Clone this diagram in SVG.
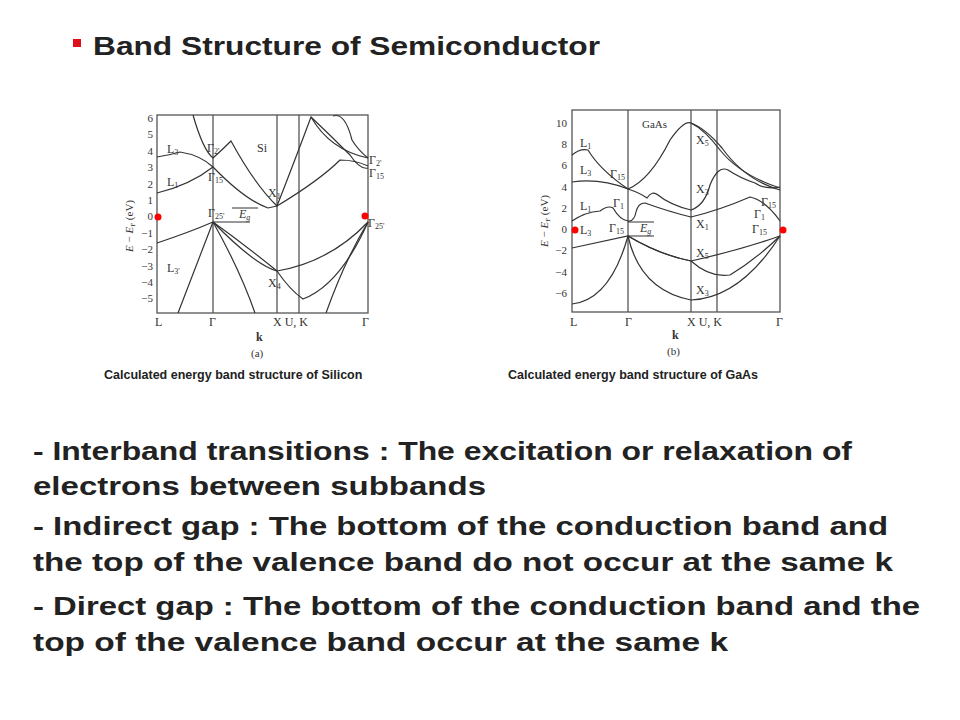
<svg xmlns="http://www.w3.org/2000/svg" width="960" height="720" viewBox="0 0 960 720">
<style>
.t{font-family:"Liberation Sans",Arial,sans-serif;font-weight:bold;fill:#222}
.c{font-family:"Liberation Sans",Arial,sans-serif;font-weight:bold;font-size:12.5px;fill:#222}
.f{font-family:"Liberation Serif","Times New Roman",serif;fill:#333}
.ax{fill:none;stroke:#555;stroke-width:1.3}
.b{fill:none;stroke:#333;stroke-width:1.2}
.dot{fill:#f00}
</style>
<rect width="960" height="720" fill="#fff"/>
<rect x="73" y="39" width="8" height="8" fill="#e0101a"/>
<text class="t" x="93" y="55" font-size="25" textLength="507" lengthAdjust="spacingAndGlyphs">Band Structure of Semiconductor</text>

<g id="si">
<rect class="ax" x="157" y="115" width="211" height="198"/>
<g class="ax"><line x1="213" y1="115" x2="213" y2="313"/><line x1="277" y1="115" x2="277" y2="313"/><line x1="299" y1="115" x2="299" y2="313"/></g>
<g class="f" font-size="11" text-anchor="end">
<text x="153" y="122">6</text><text x="153" y="138">5</text><text x="153" y="155">4</text><text x="153" y="171">3</text><text x="153" y="188">2</text><text x="153" y="204">1</text><text x="153" y="220">0</text><text x="153" y="237">−1</text><text x="153" y="253">−2</text><text x="153" y="270">−3</text><text x="153" y="286">−4</text><text x="153" y="302">−5</text>
</g>
<text class="f" font-size="11" transform="translate(133,252) rotate(-90)"><tspan font-style="italic">E</tspan> − <tspan font-style="italic">E</tspan><tspan font-size="7" dy="2">F</tspan><tspan dy="-2"> (eV)</tspan></text>
<g class="b">
<path d="M157,243 Q190,232 213,222 Q245,245 277,271 Q330,262 368,222"/>
<path d="M213,222 Q255,265 277,271 Q290,290 303,299 Q340,285 368,222"/>
<path d="M213,222 L178,313 M213,222 Q240,270 255,313 M326,313 Q345,260 368,222"/>
<path d="M157,193 Q190,185 213,167 Q245,200 268,208 L277,206 Q320,180 340,160 Q355,160 368,166"/>
<path d="M157,157 Q170,155 180,152 Q200,155 213,167"/>
<path d="M193,115 Q203,150 213,158 Q222,150 231,141 Q255,185 277,206 Q295,160 311,117 Q330,135 350,155 Q360,170 368,168"/>
<path d="M311,117 Q330,150 368,158"/>
<path d="M333,116 Q345,112 352,140 Q358,150 368,158"/>
<path d="M232,208 L258,208 M213,222 L250,222"/>
</g>
<g class="f" font-size="12">
<text x="167" y="153">L<tspan font-size="8" dy="2">3</tspan></text>
<text x="167" y="186">L<tspan font-size="8" dy="2">1</tspan></text>
<text x="167" y="272">L<tspan font-size="8" dy="2">3'</tspan></text>
<text x="207" y="152">Γ<tspan font-size="8" dy="2">2'</tspan></text>
<text x="208" y="181">Γ<tspan font-size="8" dy="2">15</tspan></text>
<text x="208" y="217">Γ<tspan font-size="8" dy="2">25'</tspan></text>
<text x="239" y="218" font-style="italic">E<tspan font-size="8" dy="2">g</tspan></text>
<text x="257" y="152">Si</text>
<text x="268" y="197">X<tspan font-size="8" dy="2">1</tspan></text>
<text x="268" y="287">X<tspan font-size="8" dy="2">4</tspan></text>
<text x="369" y="164">Γ<tspan font-size="8" dy="2">2'</tspan></text>
<text x="369" y="177">Γ<tspan font-size="8" dy="2">15</tspan></text>
<text x="368" y="227">Γ<tspan font-size="8" dy="2">25'</tspan></text>
<text x="155" y="326">L</text><text x="209" y="326">Γ</text><text x="273" y="326">X  U, K</text><text x="362" y="326">Γ</text>
<text x="256" y="341" font-weight="bold">k</text>
<text x="251" y="357" font-size="11">(a)</text>
</g>
<circle class="dot" cx="158" cy="217" r="3.5"/><circle class="dot" cx="365" cy="216" r="3.5"/>
</g>

<g id="gaas">
<rect class="ax" x="572" y="110" width="208" height="202"/>
<g class="ax"><line x1="628" y1="110" x2="628" y2="312"/><line x1="691" y1="110" x2="691" y2="312"/><line x1="717" y1="110" x2="717" y2="312"/></g>
<g class="f" font-size="11" text-anchor="end">
<text x="567" y="127">10</text><text x="567" y="148">8</text><text x="567" y="169">6</text><text x="567" y="191">4</text><text x="567" y="212">2</text><text x="567" y="233">0</text><text x="567" y="254">−2</text><text x="567" y="276">−4</text><text x="567" y="297">−6</text>
</g>
<text class="f" font-size="11" transform="translate(548,247) rotate(-90)"><tspan font-style="italic">E</tspan> − <tspan font-style="italic">E</tspan><tspan font-size="7" dy="2">F</tspan><tspan dy="-2"> (eV)</tspan></text>
<g class="b">
<path d="M572,248 Q600,242 628,236 Q660,255 691,261 Q740,250 780,236"/>
<path d="M628,236 Q660,255 691,261 Q710,278 730,275 Q755,260 780,236"/>
<path d="M572,304 Q610,300 628,236 Q640,290 691,300 Q740,298 780,236"/>
<path d="M572,221 Q585,212 600,211 Q608,205 613,208 Q620,220 628,221 Q634,222 636,212 Q638,203 645,203 Q670,212 691,217 Q720,210 750,197 Q765,200 780,221"/>
<path d="M572,155 Q580,148 588,150 Q600,170 628,189 Q650,180 670,140 Q684,120 691,123 Q705,130 720,150 Q740,175 780,188"/>
<path d="M691,123 Q705,128 722,148 Q745,180 780,190"/>
<path d="M572,182 Q600,178 628,189 Q640,193 647,198 Q652,190 658,195 Q670,205 691,210 Q705,205 710,185 Q718,165 728,170 Q740,178 755,183 Q765,190 780,187"/>
<path d="M628,222 L654,222 M628,236 L654,236"/>
</g>
<g class="f" font-size="12">
<text x="642" y="128" font-size="11">GaAs</text>
<text x="580" y="147">L<tspan font-size="8" dy="2">1</tspan></text>
<text x="580" y="174">L<tspan font-size="8" dy="2">3</tspan></text>
<text x="580" y="210">L<tspan font-size="8" dy="2">1</tspan></text>
<text x="580" y="234">L<tspan font-size="8" dy="2">3</tspan></text>
<text x="610" y="178">Γ<tspan font-size="8" dy="2">15</tspan></text>
<text x="613" y="207">Γ<tspan font-size="8" dy="2">1</tspan></text>
<text x="609" y="232">Γ<tspan font-size="8" dy="2">15</tspan></text>
<text x="640" y="232" font-style="italic">E<tspan font-size="8" dy="2">g</tspan></text>
<text x="696" y="144">X<tspan font-size="8" dy="2">5</tspan></text>
<text x="696" y="193">X<tspan font-size="8" dy="2">3</tspan></text>
<text x="696" y="228">X<tspan font-size="8" dy="2">1</tspan></text>
<text x="696" y="257">X<tspan font-size="8" dy="2">5</tspan></text>
<text x="696" y="294">X<tspan font-size="8" dy="2">3</tspan></text>
<text x="761" y="206">Γ<tspan font-size="8" dy="2">15</tspan></text>
<text x="754" y="218">Γ<tspan font-size="8" dy="2">1</tspan></text>
<text x="752" y="233">Γ<tspan font-size="8" dy="2">15</tspan></text>
<text x="570" y="326">L</text><text x="625" y="326">Γ</text><text x="687" y="326">X  U, K</text><text x="776" y="326">Γ</text>
<text x="672" y="339" font-weight="bold">k</text>
<text x="667" y="355" font-size="11">(b)</text>
</g>
<circle class="dot" cx="575" cy="230" r="3.5"/><circle class="dot" cx="783" cy="230" r="3.5"/>
</g>

<text class="c" x="104" y="379">Calculated energy band structure of Silicon</text>
<text class="c" x="508" y="379">Calculated energy band structure of GaAs</text>

<g class="t" font-size="26">
<text x="33" y="460" textLength="819" lengthAdjust="spacingAndGlyphs">- Interband transitions : The excitation or relaxation of</text>
<text x="33" y="495" textLength="453" lengthAdjust="spacingAndGlyphs">electrons between subbands</text>
<text x="33" y="535" textLength="855" lengthAdjust="spacingAndGlyphs">- Indirect gap : The bottom of the conduction band and</text>
<text x="33" y="571" textLength="860" lengthAdjust="spacingAndGlyphs">the top of the valence band do not occur at the same k</text>
<text x="33" y="615" textLength="887" lengthAdjust="spacingAndGlyphs">- Direct gap : The bottom of the conduction band and the</text>
<text x="33" y="651" textLength="695" lengthAdjust="spacingAndGlyphs">top of the valence band occur at the same k</text>
</g>
</svg>
